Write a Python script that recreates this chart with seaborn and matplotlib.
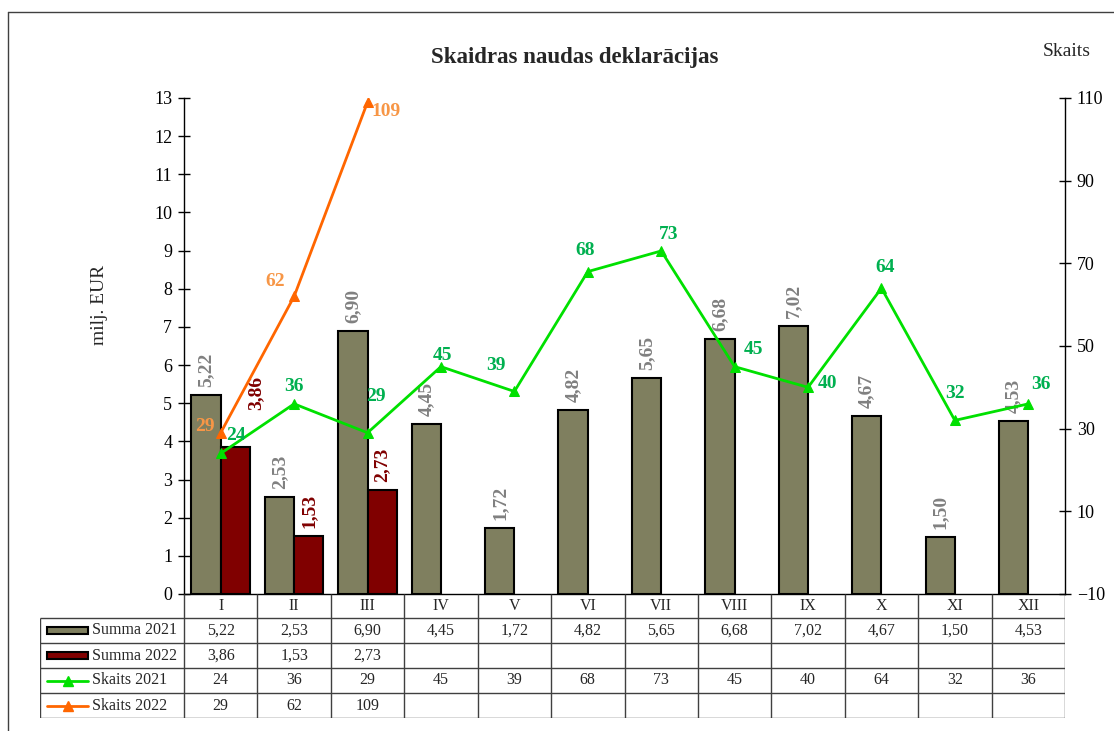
import matplotlib
matplotlib.use("Agg")
import numpy as np
import pandas as pd
import matplotlib.pyplot as plt
import seaborn as sns
from matplotlib.patches import Rectangle
from matplotlib.lines import Line2D

months = ["I", "II", "III", "IV", "V", "VI", "VII", "VIII", "IX", "X", "XI", "XII"]
summa_2021 = [5.22, 2.53, 6.90, 4.45, 1.72, 4.82, 5.65, 6.68, 7.02, 4.67, 1.50, 4.53]
summa_2022 = [3.86, 1.53, 2.73]
skaits_2021 = [24, 36, 29, 45, 39, 68, 73, 45, 40, 64, 32, 36]
skaits_2022 = [29, 62, 109]
series_names = ["Summa 2021", "Summa 2022", "Skaits 2021", "Skaits 2022"]

# krasas
c_bar21, c_bar22 = "#7F7F5F", "#800000"
c_line21, c_line22 = "#00E000", "#FF6600"
c_lab21, c_lab22 = "#00B050", "#F79646"
c_barlab21 = "#808080"

# label offsets (px, y up) - hand tuned like in the excel original
off_sk21 = [(15, 18), (0, 17), (8, 36), (2, 11), (-18, 26), (-3, 21),
            (7, 16), (19, 17), (19, 4), (4, 21), (0, 27), (13, 19)]
off_sk22 = [(-16, 6), (-19, 15), (19, -9)]
off_su22 = [(21, 37), (0, 8), (0, 8)]

W, H = 1114, 731
sns.set_style("white")
plt.rcParams["font.family"] = ["Liberation Serif", "DejaVu Serif"]

fig = plt.figure(figsize=(W / 100, H / 100), dpi=100)
ax = fig.add_axes([184 / W, 1 - 594 / H, (1065 - 184) / W, (594 - 98) / H])

df = pd.DataFrame({
    "month": months + months[:len(summa_2022)],
    "value": summa_2021 + summa_2022,
    "series": [series_names[0]] * len(summa_2021) + [series_names[1]] * len(summa_2022),
})
sns.barplot(data=df, x="month", y="value", hue="series", order=months,
            hue_order=series_names[:2], palette=[c_bar21, c_bar22],
            width=0.8, edgecolor="black", linewidth=1.5, saturation=1,
            legend=False, ax=ax)
ax.set_xlim(-0.5, 11.5)
ax.set_ylim(0, 13)
ax.set_yticks(range(0, 14))
ax.set_xlabel("")
ax.set_ylabel("")
ax.tick_params(axis="y", direction="inout", length=9, width=1, labelsize=13, pad=4, colors="black")
ax.tick_params(axis="x", length=0, labelsize=11.5, pad=3)
for s in ["top", "right"]:
    ax.spines[s].set_visible(False)
for s in ["left", "bottom"]:
    ax.spines[s].set_color("black")
    ax.spines[s].set_linewidth(1)

# bar labels
for bar, v in zip(ax.containers[0], summa_2021):
    ax.annotate(f"{v:.2f}".replace(".", ","),
                (bar.get_x() + bar.get_width() / 2, bar.get_height()),
                xytext=(0, 8 * 0.72), textcoords="offset points",
                ha="center", va="bottom", rotation=90, fontsize=14,
                fontweight="bold", color=c_barlab21)
for bar, v, (dx, dy) in zip(ax.containers[1], summa_2022, off_su22):
    ax.annotate(f"{v:.2f}".replace(".", ","),
                (bar.get_x() + bar.get_width() / 2, bar.get_height()),
                xytext=(dx * 0.72, dy * 0.72), textcoords="offset points",
                ha="center", va="bottom", rotation=90, fontsize=14,
                fontweight="bold", color=c_bar22)

# skaits uz labas ass
ax2 = ax.twinx()
x = np.arange(len(months))
sns.lineplot(x=x, y=skaits_2021, ax=ax2, color=c_line21, lw=2, marker="^",
             markersize=7, markeredgecolor=c_line21, legend=False)
sns.lineplot(x=x[:len(skaits_2022)], y=skaits_2022, ax=ax2, color=c_line22, lw=2,
             marker="^", markersize=7, markeredgecolor=c_line22, legend=False)
ax2.set_ylim(-10, 110)
ax2.set_yticks(range(-10, 111, 20))
ax2.set_ylabel("")
ax2.tick_params(axis="y", direction="inout", length=9, width=1, labelsize=13, pad=4, colors="black")
for s in ["top", "left", "bottom"]:
    ax2.spines[s].set_visible(False)
ax2.spines["right"].set_color("black")
ax2.spines["right"].set_linewidth(1)

for xi, v, (dx, dy) in zip(x, skaits_2021, off_sk21):
    ax2.annotate(str(v), (xi, v), xytext=(dx * 0.72, dy * 0.72), textcoords="offset points",
                 ha="center", va="center", fontsize=14, fontweight="bold", color=c_lab21)
for xi, v, (dx, dy) in zip(x, skaits_2022, off_sk22):
    ax2.annotate(str(v), (xi, v), xytext=(dx * 0.72, dy * 0.72), textcoords="offset points",
                 ha="center", va="center", fontsize=14, fontweight="bold", color=c_lab22)

# titles
fig.text(575 / W, 1 - 57 / H, "Skaidras naudas deklarācijas", ha="center", va="center",
         fontsize=16.5, fontweight="bold")
fig.text(100 / W, 1 - 305 / H, "milj. EUR", ha="center", va="center", rotation=90, fontsize=14)
fig.text(1067 / W, 1 - 52 / H, "Skaits", ha="center", va="center", fontsize=14)

# datu tabula
cat_w = (1065 - 184) / 12
px2x = lambda p: -0.5 + (p - 184) / cat_w
tab = fig.add_axes([40 / W, 1 - 718 / H, (1065 - 40) / W, (718 - 594) / H])
tab.set_xlim(px2x(40), 11.5)
tab.set_ylim(718, 594)
tab.axis("off")
grid_c = "#404040"
row_y = [618, 643, 668, 693, 718]
tab.hlines(row_y, px2x(40), 11.5, color=grid_c, lw=1)
tab.vlines(np.arange(-0.5, 12, 1), 594, 718, color=grid_c, lw=1)
tab.vlines(px2x(40), 618, 718, color=grid_c, lw=1)

rows = [summa_2021, summa_2022, skaits_2021, skaits_2022]
fmts = [lambda v: f"{v:.2f}".replace(".", ","), lambda v: f"{v:.2f}".replace(".", ","),
        str, str]
for r, (vals, fmt) in enumerate(zip(rows, fmts)):
    yc = (row_y[r] + row_y[r + 1]) / 2
    for i, v in enumerate(vals):
        tab.text(i, yc, fmt(v), ha="center", va="center", fontsize=11.5)
    tab.text(px2x(92), yc, series_names[r], ha="left", va="center", fontsize=11.5)

# legendas atslegas
k0, k1 = px2x(47), px2x(88)
for r, c in enumerate([c_bar21, c_bar22]):
    yc = (row_y[r] + row_y[r + 1]) / 2
    tab.add_patch(Rectangle((k0, yc - 3.5), k1 - k0, 7, facecolor=c, edgecolor="black", lw=1.5))
for r, c in zip([2, 3], [c_line21, c_line22]):
    yc = (row_y[r] + row_y[r + 1]) / 2
    tab.plot([k0, k1], [yc, yc], color=c, lw=2)
    tab.plot([(k0 + k1) / 2], [yc], marker="^", color=c, markersize=7)

# ramis
fig.add_artist(Line2D([8 / W, 1], [1 - 12 / H, 1 - 12 / H], transform=fig.transFigure, color=grid_c, lw=1))
fig.add_artist(Line2D([8 / W, 8 / W], [0, 1 - 12 / H], transform=fig.transFigure, color=grid_c, lw=1))

fig.savefig("out.png", dpi=100)
